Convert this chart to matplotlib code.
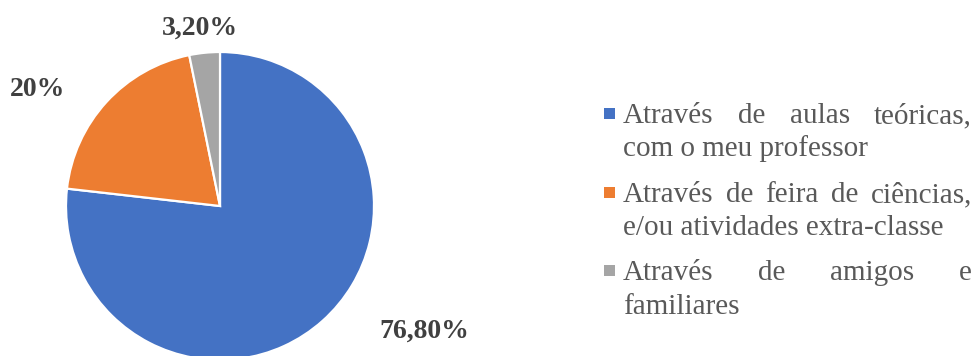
import matplotlib
matplotlib.use("Agg")
import matplotlib.pyplot as plt
from matplotlib.patches import Rectangle

# Data
categories = [
    "Através de aulas teóricas, com o meu professor",
    "Através de feira de ciências, e/ou atividades extra-classe",
    "Através de amigos e familiares",
]
legend_lines = [
    ["Através de aulas teóricas,", "com o meu professor"],
    ["Através de feira de ciências,", "e/ou atividades extra-classe"],
    ["Através de amigos e", "familiares"],
]
values = [76.8, 20.0, 3.2]
colors = ["#4472C4", "#ED7D31", "#A5A5A5"]


def pct_label(v):
    if float(v).is_integer():
        return f"{int(v)}%"
    return f"{v:.2f}%".replace(".", ",")


W, H = 974, 356
fig = plt.figure(figsize=(W / 100, H / 100), dpi=100)
ax = fig.add_axes([0, 0, 1, 1])

# Pie, clockwise from 12 o'clock, drawn in pixel-sized data units
cx, cy, r = 220, H - 206, 154
ax.pie(values, colors=colors, startangle=90, counterclock=False,
       center=(cx, cy), radius=r, frame=True,
       wedgeprops=dict(edgecolor="white", linewidth=1.6))
ax.set_xlim(0, W)
ax.set_ylim(0, H)
ax.axis("off")

# Data labels
label_pos = [(424, H - 331), (38, H - 89), (200, H - 28)]
for v, (lx, ly) in zip(values, label_pos):
    ax.text(lx, ly, pct_label(v), ha="center", va="center",
            family="Liberation Serif", fontweight="bold", fontsize=20,
            color="#404040")

# Legend with justified first lines
renderer = fig.canvas.get_renderer()
text_kw = dict(family="Liberation Serif", fontsize=21, color="#595959",
               va="baseline", ha="left")
left, right = 623, 972
baselines = [(123, 156), (202, 235), (280, 314)]
marker_tops = [108, 187, 265]

for lines, col, (b1, b2), mt in zip(legend_lines, colors, baselines, marker_tops):
    ax.add_patch(Rectangle((604, H - mt - 10.5), 11, 10.5, facecolor=col,
                           edgecolor="none"))
    words = lines[0].split()
    objs = [ax.text(0, H - b1, w, **text_kw) for w in words]
    widths = [o.get_window_extent(renderer).width for o in objs]
    gap = (right - left - sum(widths)) / (len(words) - 1)
    x = left
    for o, w in zip(objs, widths):
        o.set_x(x)
        x += w + gap
    ax.text(left, H - b2, lines[1], **text_kw)

fig.savefig("out.png", dpi=100)
